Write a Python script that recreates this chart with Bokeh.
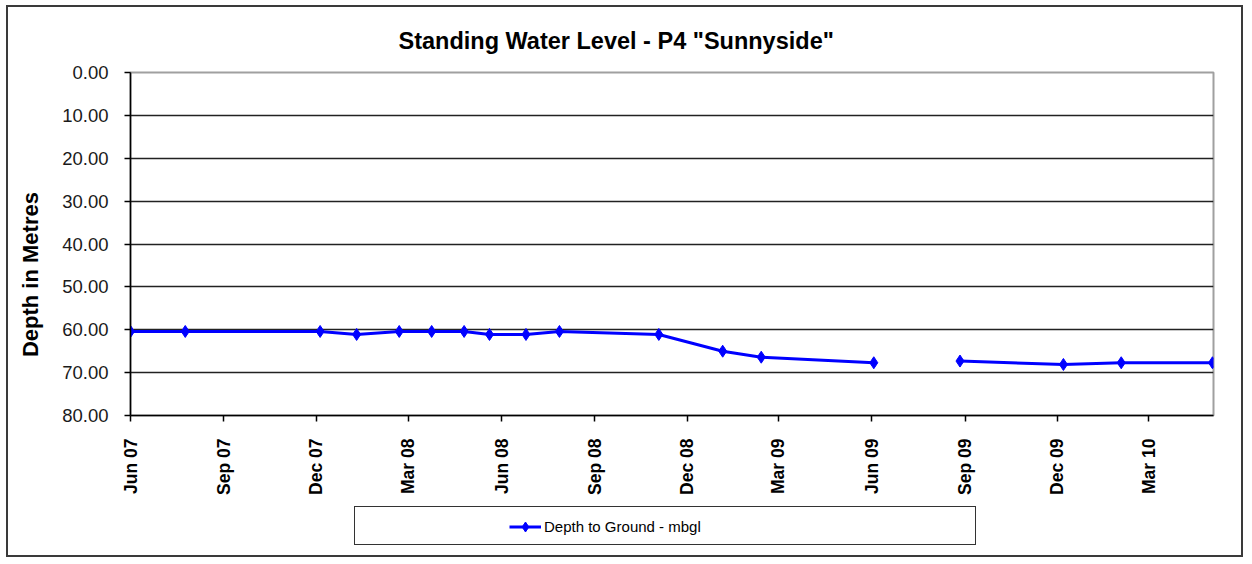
from math import pi
import numpy as np
import pandas as pd
from bokeh.plotting import figure
from bokeh.layouts import column, row
from bokeh.models import (ColumnDataSource, Range1d, FixedTicker, NumeralTickFormatter,
                          Legend, LegendItem, Spacer)
from bokeh.embed import file_html
from bokeh.resources import INLINE

title_text = 'Standing Water Level - P4 "Sunnyside"'
y_label = "Depth in Metres"
series_name = "Depth to Ground - mbgl"

# reading dates and depth (m below ground); None = missing reading (gap in line)
dates = ["2007-06-01", "2007-07-25", "2007-12-05", "2008-01-10", "2008-02-21",
         "2008-03-24", "2008-04-25", "2008-05-20", "2008-06-25", "2008-07-28",
         "2008-11-03", "2009-01-05", "2009-02-12", "2009-06-03", "2009-07-20",
         "2009-08-27", "2009-12-07", "2010-02-02", "2010-05-03"]
depths = [60.4, 60.4, 60.4, 61.1, 60.4,
          60.4, 60.4, 61.1, 61.1, 60.4,
          61.1, 65.0, 66.4, 67.7, None,
          67.3, 68.1, 67.7, 67.7]

x_tick_dates = ["2007-06-01", "2007-09-01", "2007-12-01", "2008-03-01", "2008-06-01",
                "2008-09-01", "2008-12-01", "2009-03-01", "2009-06-01", "2009-09-01",
                "2009-12-01", "2010-03-01"]
x_tick_labels = ["Jun 07", "Sep 07", "Dec 07", "Mar 08", "Jun 08", "Sep 08", "Dec 08",
                 "Mar 09", "Jun 09", "Sep 09", "Dec 09", "Mar 10"]
y_ticks = [0, 10, 20, 30, 40, 50, 60, 70, 80]
x_start, x_end = "2007-06-01", "2010-05-04"

BORDER = "2px solid #3a3a3a"
LINE_COLOR = "#0000FF"
ML, MR = 122, 32


def to_ms(d):
    return int(pd.Timestamp(d).value // 10**6)


src = ColumnDataSource(dict(
    x=pd.to_datetime(dates),
    y=np.array([np.nan if v is None else v for v in depths], dtype=float),
))

p = figure(width=1237, height=498, x_axis_type="datetime",
           output_backend="svg", toolbar_location=None,
           x_range=Range1d(pd.Timestamp(x_start), pd.Timestamp(x_end)),
           y_range=Range1d(80, 0),
           min_border_left=ML, min_border_right=MR,
           min_border_top=65, min_border_bottom=90)
p.styles = {"border-top": BORDER, "border-left": BORDER, "border-right": BORDER}

p.background_fill_color = "white"
p.border_fill_color = "white"
p.outline_line_color = "#a0a0a0"
p.outline_line_width = 2

p.title.text = title_text
p.title.align = "left"
p.title.offset = 268
p.title.standoff = 37
p.title.text_font = "Liberation Sans"
p.title.text_font_style = "bold"
p.title.text_font_size = "23.5px"
p.title.text_color = "black"

# grid
p.xgrid.visible = False
p.ygrid.grid_line_color = "#222222"
p.ygrid.grid_line_width = 1.5
p.ygrid.ticker = FixedTicker(ticks=y_ticks)

# y axis
ya = p.yaxis[0]
ya.ticker = FixedTicker(ticks=y_ticks)
ya.formatter = NumeralTickFormatter(format="0.00")
ya.major_label_text_font = "Liberation Sans"
ya.major_label_text_font_size = "18.5px"
ya.major_label_text_color = "#1a1a1a"
ya.major_tick_out = 6
ya.major_tick_in = 0
ya.minor_tick_out = 0
ya.minor_tick_in = 0
ya.major_label_standoff = 16
ya.axis_line_color = "black"
ya.axis_line_width = 1.5
ya.major_tick_line_color = "black"
ya.major_tick_line_width = 1.5
# trailing no-break spaces shift the centred axis title down, as in the reference
ya.axis_label = y_label + "\u00a0" * 10
ya.axis_label_standoff = 16
ya.axis_label_text_font = "Liberation Sans"
ya.axis_label_text_font_style = "bold"
ya.axis_label_text_font_size = "22px"
ya.axis_label_text_color = "black"

# x axis
xa = p.xaxis[0]
tick_ms = [to_ms(d) for d in x_tick_dates]
xa.ticker = FixedTicker(ticks=tick_ms)
xa.major_label_overrides = {t: lab for t, lab in zip(tick_ms, x_tick_labels)}
xa.major_label_orientation = pi / 2
xa.major_label_text_font = "Liberation Sans"
xa.major_label_text_font_style = "bold"
xa.major_label_text_font_size = "17.5px"
xa.major_label_text_color = "black"
xa.major_tick_out = 6
xa.major_tick_in = 0
xa.minor_tick_out = 0
xa.minor_tick_in = 0
xa.major_label_standoff = 17
xa.axis_line_color = "black"
xa.axis_line_width = 1.5
xa.major_tick_line_color = "black"
xa.major_tick_line_width = 1.5

# data
p.line("x", "y", source=src, line_color=LINE_COLOR, line_width=3)
p.scatter("x", "y", source=src, marker="diamond", size=12,
          fill_color=LINE_COLOR, line_color=LINE_COLOR)

# legend strip below the chart (same frame width so that the frames align)
lf = figure(width=1237, height=54, output_backend="svg", toolbar_location=None,
            x_range=Range1d(0, 1), y_range=Range1d(0, 1),
            x_axis_location=None, y_axis_location=None,
            min_border_left=ML, min_border_right=MR,
            min_border_top=3, min_border_bottom=9)
lf.styles = {"border-bottom": BORDER, "border-left": BORDER, "border-right": BORDER}
lf.grid.visible = False
lf.background_fill_color = "white"
lf.border_fill_color = "white"
lf.outline_line_color = None
# legend key renderers (same series; its points fall outside this strip's ranges)
key_line = lf.line("x", "y", source=src, line_color=LINE_COLOR, line_width=3)
key_mark = lf.scatter("x", "y", source=src, marker="diamond", size=12,
                      fill_color=LINE_COLOR, line_color=LINE_COLOR)
blank = lf.scatter(x=[], y=[], marker="diamond", size=1, fill_alpha=0, line_alpha=0)

box = Legend(items=[LegendItem(label=" ", renderers=[blank])], location=(224, 3),
             border_line_color="#333333", border_line_width=1.5, border_line_alpha=1,
             background_fill_color="white", background_fill_alpha=1,
             padding=8, margin=0, spacing=0, glyph_width=20, glyph_height=21,
             label_standoff=0, label_width=584, label_height=21,
             label_text_font_size="14px")
lf.add_layout(box)

leg = Legend(items=[LegendItem(label=series_name, renderers=[key_line, key_mark])],
             location=(373, 3), border_line_alpha=0, background_fill_alpha=0,
             padding=6, margin=0, spacing=0, glyph_width=32, glyph_height=25,
             label_standoff=3, label_height=25,
             label_text_font="Liberation Sans", label_text_font_size="15px",
             label_text_color="black")
lf.add_layout(leg)

layout = column(Spacer(height=5), row(Spacer(width=6), column(p, lf)))
open("out.html", "w").write(file_html(layout, INLINE))
